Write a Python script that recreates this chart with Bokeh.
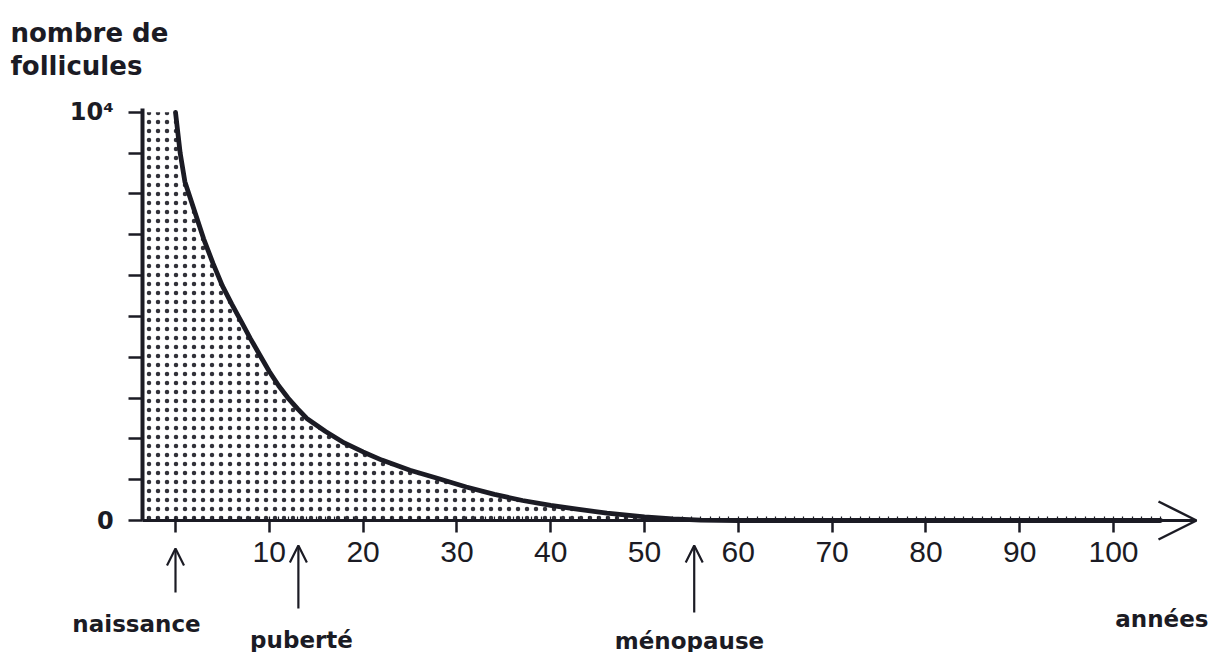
from bokeh.plotting import figure
from bokeh.models import Range1d, FixedTicker, Label, Arrow, OpenHead
from bokeh.embed import file_html
from bokeh.resources import INLINE

# ---- data ----
YEARS = [0, 0.5, 1, 2, 3, 4, 5, 6, 7, 8, 9, 10, 11, 12, 13, 14, 16, 18, 20, 22,
         25, 28, 31, 34, 37, 40, 43, 46, 50, 53, 56, 60, 70, 80, 90, 100, 105]
FOLLICLES = [10000, 9000, 8300, 7600, 6900, 6300, 5750, 5300, 4880, 4450, 4050,
             3650, 3300, 3000, 2740, 2500, 2180, 1900, 1680, 1480, 1230, 1030,
             820, 640, 490, 370, 270, 180, 90, 40, 10, 0, 0, 0, 0, 0, 0]

X_TICKS = [0, 10, 20, 30, 40, 50, 60, 70, 80, 90, 100]
X_TICK_LABELS = ["", "10", "20", "30", "40", "50", "60", "70", "80", "90", "100"]
Y_TICKS = [0, 1000, 2000, 3000, 4000, 5000, 6000, 7000, 8000, 9000, 10000]
Y_TICK_LABELS = ["0", "", "", "", "", "", "", "", "", "", "10⁴"]

EVENTS = ["naissance", "puberté", "ménopause"]
EVENT_YEARS = [0, 13.1, 55.3]
Y_TITLE = ["nombre de", "follicules"]
X_TITLE = "années"

# ---- layout (the frame fills the whole figure; axes sit at fixed locations) ----
INK = "#1b1b24"
W, H = 1212, 652
ZERO_X_PX = 175      # page x of year 0
PX_PER_YEAR = 9.38
AXIS_Y_PX = 520      # page y of value 0
UNITS_PER_PX = 24.5
Y_AXIS_YEAR = -3.5
Y_TOP = 10100


def X(px):
    return (px - ZERO_X_PX) / PX_PER_YEAR


def Y(py):
    return (AXIS_Y_PX - py) * UNITS_PER_PX


p = figure(width=W, height=H, x_range=Range1d(X(0), X(W)),
           y_range=Range1d(Y(H), Y(0)),
           output_backend="svg", toolbar_location=None,
           min_border=0, min_border_left=0, min_border_right=0,
           min_border_top=0, min_border_bottom=0)
p.outline_line_color = None
p.grid.visible = False
p.background_fill_color = "white"
p.border_fill_color = "white"

# stippled area under the curve
fill_x = [Y_AXIS_YEAR] + YEARS
fill_y = [FOLLICLES[0]] + FOLLICLES
p.varea(x=fill_x, y1=0, y2=fill_y, fill_color="white", fill_alpha=1,
        hatch_pattern="dot", hatch_color=INK, hatch_scale=9, hatch_weight=2.6,
        hatch_alpha=0.9)

# curve
p.line(YEARS, FOLLICLES, line_width=4.8, line_color=INK, line_join="round",
       line_cap="round")

# x axis
xa = p.xaxis[0]
xa.fixed_location = 0
xa.bounds = (Y_AXIS_YEAR, X(1194))
xa.ticker = FixedTicker(ticks=X_TICKS, minor_ticks=list(range(-3, 106)))
xa.major_label_overrides = {t: l for t, l in zip(X_TICKS, X_TICK_LABELS)}
xa.axis_line_width = 3
xa.axis_line_color = INK
xa.major_tick_line_color = INK
xa.major_tick_line_width = 2.5
xa.major_tick_out = 12
xa.major_tick_in = 0
xa.minor_tick_line_color = INK
xa.minor_tick_line_width = 1.2
xa.minor_tick_in = 4
xa.minor_tick_out = 0
xa.major_label_standoff = 9
xa.major_label_text_font = "Liberation Sans"
xa.major_label_text_font_size = "30px"
xa.major_label_text_color = INK

# y axis
ya = p.yaxis[0]
ya.fixed_location = Y_AXIS_YEAR
ya.bounds = (0, Y_TOP)
ya.ticker = FixedTicker(ticks=Y_TICKS, minor_ticks=[])
ya.major_label_overrides = {t: l for t, l in zip(Y_TICKS, Y_TICK_LABELS)}
ya.axis_line_width = 4
ya.axis_line_color = INK
ya.major_tick_line_color = INK
ya.major_tick_line_width = 2.5
ya.major_tick_out = 14
ya.major_tick_in = 0
ya.major_label_standoff = 15
ya.major_label_text_font = "DejaVu Sans"
ya.major_label_text_font_style = "bold"
ya.major_label_text_font_size = "24px"
ya.major_label_text_color = INK

# arrow head at the end of the x axis
p.add_layout(Arrow(end=OpenHead(size=38, line_width=2.5, line_color=INK),
                   x_start=X(1150), y_start=0, x_end=X(1196), y_end=0,
                   line_color=INK, line_width=3))

# y title (two lines)
for t, base in zip(Y_TITLE, [32, 65]):
    p.add_layout(Label(x=X(10), y=Y(base), text=t, text_align="left",
                       text_baseline="alphabetic", text_font="DejaVu Sans",
                       text_font_style="bold", text_font_size="26px",
                       text_color=INK))

# x title
p.add_layout(Label(x=X(1208), y=Y(618), text=X_TITLE, text_align="right",
                   text_baseline="alphabetic", text_font="DejaVu Sans",
                   text_font_style="bold", text_font_size="23px", text_color=INK))

# event arrows and labels
arrow_top_px = [548, 545, 545]
arrow_bottom_px = [592, 608, 612]
label_center_px = [136, 301, 689]
label_base_px = [623, 639, 640]
for name, yr, at, ab, lc, lb in zip(EVENTS, EVENT_YEARS, arrow_top_px,
                                    arrow_bottom_px, label_center_px, label_base_px):
    p.add_layout(Arrow(end=OpenHead(size=17, line_width=2.2, line_color=INK),
                       x_start=yr, y_start=Y(ab), x_end=yr, y_end=Y(at),
                       line_color=INK, line_width=2.2))
    p.add_layout(Label(x=X(lc), y=Y(lb), text=name, text_align="center",
                       text_baseline="alphabetic", text_font="DejaVu Sans",
                       text_font_style="bold", text_font_size="23px",
                       text_color=INK))

open("out.html", "w").write(file_html(p, INLINE))
